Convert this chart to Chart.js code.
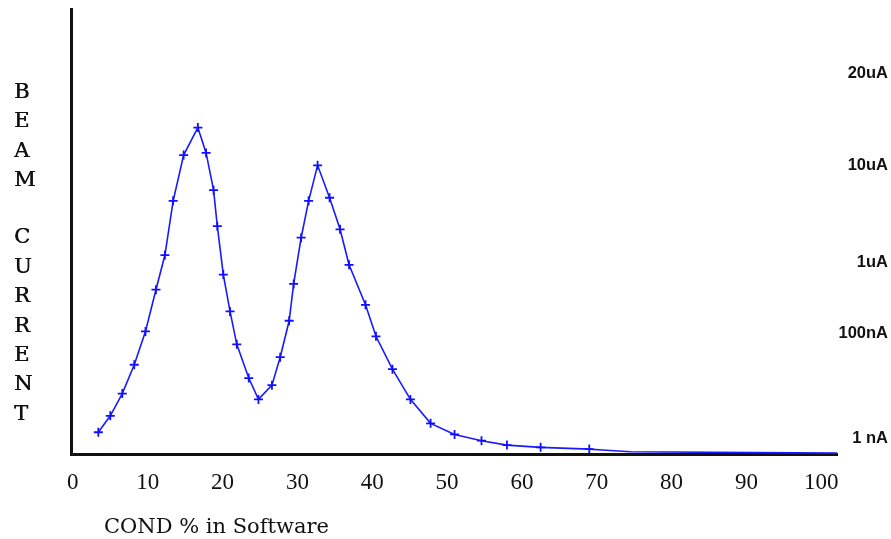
<!DOCTYPE html>
<html>
<head>
<meta charset="utf-8">
<script src="https://cdn.jsdelivr.net/npm/chart.js@4.4.1/dist/chart.umd.min.js"></script>
<style>
  html, body { margin: 0; padding: 0; background: #ffffff; }
  #wrap { width: 891px; height: 539px; position: relative; }
</style>
</head>
<body>
<div id="wrap"><canvas id="c" width="891" height="539"></canvas></div>
<script>
// COND % in software (x) and beam-current level (y, in the chart's own plotted units)
const condPercent = [3.4, 5.0, 6.6, 8.2, 9.7, 11.1, 12.3, 13.4, 14.8, 16.7, 17.8, 18.8, 19.3, 20.1, 21.0, 21.9, 23.5, 24.8,
  26.6, 27.7, 28.9, 29.5, 30.5, 31.5, 32.7, 34.3, 35.7, 36.9, 39.1, 40.5, 42.7, 45.1, 47.8, 51.0, 54.6, 58.0, 62.5, 69.0,
  70.7, 74.5, 102.1];
const beamLevel = [4.9, 8.6, 13.6, 20.1, 27.6, 37.0, 44.8, 57.0, 67.3, 73.5, 67.8, 59.4, 51.3, 40.4, 32.1, 24.7, 17.1, 12.3,
  15.5, 21.8, 30.0, 38.3, 48.7, 57.0, 65.0, 57.7, 50.6, 42.6, 33.6, 26.5, 19.1, 12.3, 6.9, 4.4, 3.0, 2.0, 1.5, 1.1,
  0.9, 0.5, 0.2];
const markedCount = 38; // points drawn with a "+" marker
const xTicks = [0, 10, 20, 30, 40, 50, 60, 70, 80, 90, 100];
const currentTickLevels = [3.5, 27.1, 43.1, 65.0, 85.7];
const currentTickLabels = ['1 nA', '100nA', '1uA', '10uA', '20uA'];
const yAxisLetters = ['B', 'E', 'A', 'M', '', 'C', 'U', 'R', 'R', 'E', 'N', 'T'];
const xAxisTitle = 'COND % in Software';

const points = condPercent.map((x, i) => ({ x: x, y: beamLevel[i] }));

const textPlugin = {
  id: 'textPlugin',
  afterDraw(chart) {
    const ctx = chart.ctx;
    ctx.save();
    ctx.fillStyle = '#111111';
    ctx.font = '21px "DejaVu Serif", "Liberation Serif", serif';
    ctx.textAlign = 'left';
    ctx.textBaseline = 'middle';
    const y0 = 92.5, step = 29.4;
    yAxisLetters.forEach((ch, i) => {
      if (ch) {
        const y = y0 + i * step + (i > 4 ? -1.5 : 0);
        ctx.fillText(ch, 14, y);
        ctx.fillText(ch, 14.5, y);
      }
    });
    ctx.font = '21px "DejaVu Serif", "Liberation Serif", serif';
    ctx.fillText(xAxisTitle, 104, 528);
    ctx.restore();
  }
};

new Chart(document.getElementById('c'), {
  type: 'line',
  data: {
    datasets: [{
      data: points,
      borderColor: '#1a1aff',
      borderWidth: 1.6,
      pointStyle: 'cross',
      pointRadius: (c) => c.dataIndex < markedCount ? 4.5 : 0,
      pointBorderColor: '#1010ff',
      pointBorderWidth: 1.8,
      pointHoverRadius: 0,
      tension: 0,
      fill: false
    }]
  },
  options: {
    responsive: false,
    animation: false,
    events: [],
    layout: { padding: { top: 8, right: 3, left: 0, bottom: 0 } },
    plugins: { legend: { display: false }, tooltip: { enabled: false }, title: { display: false } },
    scales: {
      x: {
        type: 'linear',
        min: -0.25,
        max: 102.1,
        grid: { display: false, drawTicks: false },
        border: { display: true, color: '#111111', width: 3 },
        afterBuildTicks: (s) => { s.ticks = xTicks.map(v => ({ value: v })); },
        afterFit: (s) => { s.height = 85; },
        ticks: {
          padding: 15,
          color: '#111111',
          maxRotation: 0,
          autoSkip: false,
          font: { family: '"Liberation Serif", "DejaVu Serif", serif', size: 23 },
          callback: (v) => String(v)
        }
      },
      y: {
        type: 'linear',
        position: 'left',
        min: 0,
        max: 100,
        grid: { display: false, drawTicks: false },
        border: { display: true, color: '#111111', width: 3 },
        ticks: { display: false },
        afterFit: (s) => { s.width = 71; }
      },
      y2: {
        type: 'linear',
        position: 'right',
        min: 0,
        max: 100,
        grid: { display: false, drawTicks: false },
        border: { display: false },
        afterBuildTicks: (s) => { s.ticks = currentTickLevels.map(v => ({ value: v })); },
        afterFit: (s) => { s.width = 51; },
        ticks: {
          crossAlign: 'far',
          padding: 0,
          color: '#111111',
          autoSkip: false,
          font: { family: '"Liberation Sans", Arial, sans-serif', size: 16.5, weight: 'bold' },
          callback: (v, i) => currentTickLabels[i]
        }
      }
    }
  },
  plugins: [textPlugin]
});
</script>
</body>
</html>
